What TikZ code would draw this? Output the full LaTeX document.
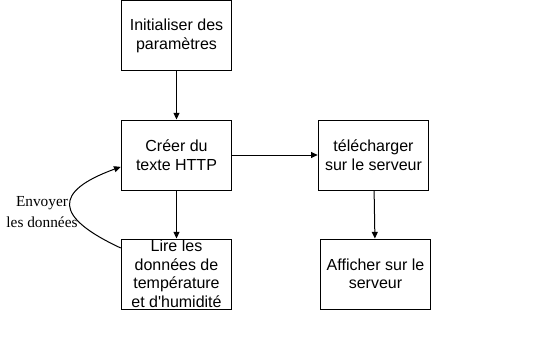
\documentclass[tikz,border=0pt]{standalone}
\usepackage{fontspec}
\setmainfont{Liberation Serif}
\setsansfont{Liberation Sans}
\usetikzlibrary{positioning,arrows.meta}

\begin{document}
\begin{tikzpicture}[
    x=0.75pt, y=0.75pt,
    node distance=36pt and 64pt,
    etape/.style={
        rectangle,
        draw,
        line width=0.75pt,
        align=center,
        minimum width=83pt,
        minimum height=52.5pt,
        inner xsep=2pt, inner ysep=0pt,
        font=\sffamily\fontsize{12}{13.9}\selectfont
    },
    note/.style={align=center, font=\fontsize{11.5}{16}\selectfont},
    arrow/.style={line width=0.75pt, -{Triangle[length=5pt,width=4.5pt]}}
]
    \useasboundingbox (0,0) rectangle (548,-342);

    % Nodes
    \node[etape] (init) at (176.5,-36) {Initialiser des\\paramètres};
    \node[etape, below=of init] (creer) {Créer du\\texte HTTP};
    \node[etape, below=of creer] (lire) {Lire les\\données de\\température\\et d\textquotesingle humidité};
    \node[etape, right=of creer] (telecharger) {télécharger\\sur le serveur};
    \node[etape, below=of telecharger, xshift=1.5pt] (afficher) {Afficher sur le\\serveur};

    % Connections
    \draw[arrow] (init) -- (creer);
    \draw[arrow] (creer) -- (lire);
    \draw[arrow] (creer) -- (telecharger);
    \draw[arrow] (telecharger) -- (afficher);
    \draw[arrow] (lire.155) to[out=155, in=200, looseness=2.3] (creer.192);
    \node[note] (envoi) at (42,-212) {Envoyer\\les données};
\end{tikzpicture}
\end{document}
